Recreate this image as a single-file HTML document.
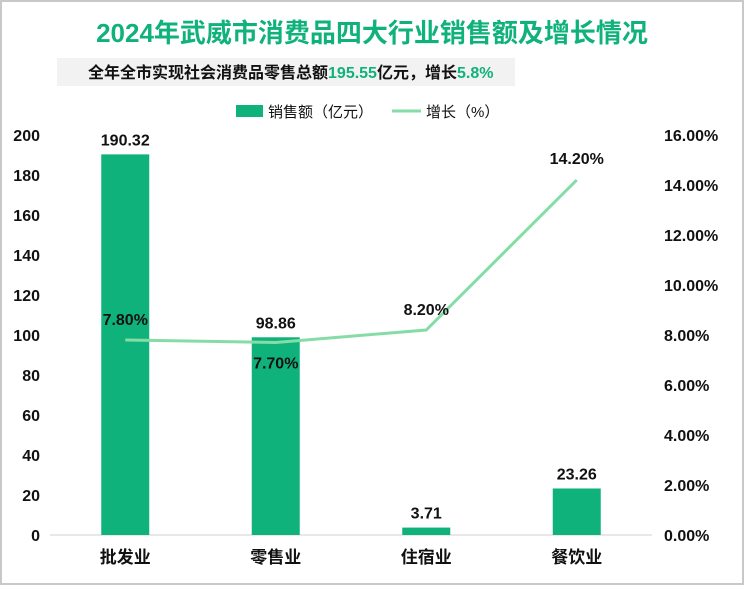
<!DOCTYPE html>
<html><head><meta charset="utf-8"><style>
body{margin:0;background:#fff}
#c{position:relative;width:744px;height:585px;font-family:"Liberation Sans","Noto Sans CJK SC",sans-serif}
</style></head><body>
<div id="c">
<svg id="s" width="744" height="585" xmlns="http://www.w3.org/2000/svg">
<rect x="1" y="1" width="742" height="583" fill="#fff" stroke="#c8c8c8" stroke-width="2"/>
<text x="372" y="42" text-anchor="middle" font-size="26" font-weight="bold" fill="#10b27c" font-family="Liberation Sans,Noto Sans CJK SC,sans-serif">2024年武威市消费品四大行业销售额及增长情况</text>
<rect x="57" y="58" width="458" height="28" fill="#f2f2f2"/>
<text x="88" y="78" font-size="16" font-weight="bold" fill="#111" font-family="Liberation Sans,Noto Sans CJK SC,sans-serif">全年全市实现社会消费品零售总额<tspan fill="#10b27c">195.55</tspan>亿元，增长<tspan fill="#10b27c">5.8%</tspan></text>
<rect x="236" y="105" width="27" height="12" fill="#10b27c"/>
<text x="268" y="117" font-size="15" fill="#111" font-family="Liberation Sans,Noto Sans CJK SC,sans-serif">销售额（亿元）</text>
<line x1="392" y1="111" x2="421" y2="111" stroke="#86dca6" stroke-width="3"/>
<text x="426" y="117" font-size="15" fill="#111" font-family="Liberation Sans,Noto Sans CJK SC,sans-serif">增长（%）</text>
<g id="g"></g>
</svg>
</div>
<script>
const categories=["批发业","零售业","住宿业","餐饮业"];
const sales=[190.32,98.86,3.71,23.26];
const growth=[7.8,7.7,8.2,14.2];
const leftTicks=[0,20,40,60,80,100,120,140,160,180,200];
const rightTicks=[0,2,4,6,8,10,12,14,16];
const NS="http://www.w3.org/2000/svg";
const g=document.getElementById('g');
const x0=50,x1=652,yb=535,yt=135;
const band=(x1-x0)/categories.length;
const cx=i=>x0+band*(i+0.5);
const yL=v=>yb-(v/200)*(yb-yt);
const yR=v=>yb-(v/16)*(yb-yt);
function el(t,a,txt){const e=document.createElementNS(NS,t);for(const k in a)e.setAttribute(k,a[k]);if(txt!==undefined)e.textContent=txt;g.appendChild(e);return e;}
const F="Liberation Sans,Noto Sans CJK SC,sans-serif";
leftTicks.forEach(v=>{const e=el('text',{x:40,y:yL(v)+6,'text-anchor':'end','font-size':16,'font-weight':'bold',fill:'#111','font-family':F},v);

});
rightTicks.forEach(v=>{const e=el('text',{x:664,y:yR(v)+6,'font-size':16,'font-weight':'bold',fill:'#111','font-family':F},v.toFixed(2)+'%');

});
const ax=el('line',{x1:x0,y1:yb,x2:x1,y2:yb,stroke:'#d0d0d0','stroke-width':1});


categories.forEach((c,i)=>{
const b=el('rect',{x:cx(i)-24,y:yL(sales[i]),width:48,height:yb-yL(sales[i]),fill:'#10b27c'});


const l=el('text',{x:cx(i),y:yL(sales[i])-9,'text-anchor':'middle','font-size':16,'font-weight':'bold',fill:'#111','font-family':F},sales[i].toFixed(2));


const t=el('text',{x:cx(i),y:563,'text-anchor':'middle','font-size':17,'font-weight':'bold',fill:'#111','font-family':F},c);


});
const pl=el('polyline',{points:growth.map((v,i)=>cx(i)+','+yR(v)).join(' '),fill:'none',stroke:'#86dca6','stroke-width':3});


const offs=[-15,26,-15,-16];
growth.forEach((v,i)=>{const e=el('text',{x:cx(i),y:yR(v)+offs[i],'text-anchor':'middle','font-size':16,'font-weight':'bold',fill:'#111','font-family':F},v.toFixed(2)+'%');

});
</script>
</body></html>
